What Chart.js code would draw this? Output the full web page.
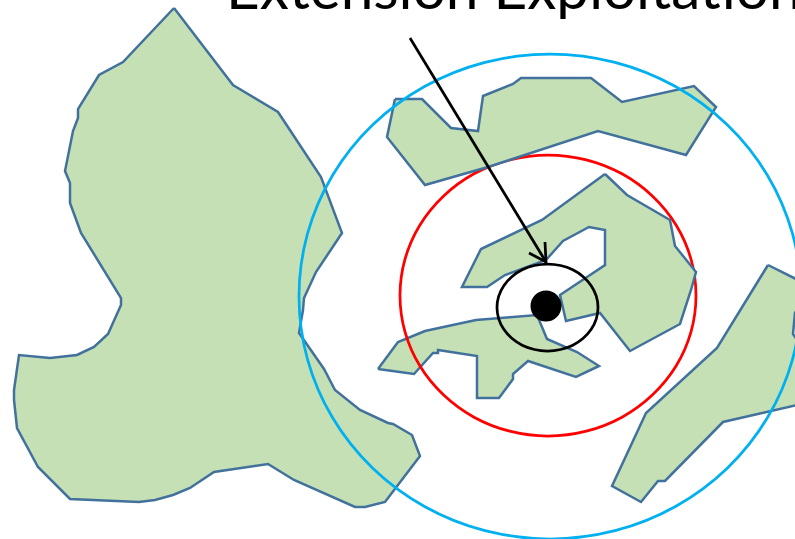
<!DOCTYPE html>
<html>
<head>
<meta charset="utf-8">
<style>
  html, body { margin: 0; padding: 0; background: #fff; overflow: hidden; }
  #wrap { position: relative; width: 795px; height: 539px; overflow: hidden; }
  #myChart { position: absolute; left: 0; top: 0; }
  #heading { position: absolute; left: 226px; top: -49px; font: 400 58.5px Lato, sans-serif; color: #000; white-space: nowrap; }
</style>
</head>
<body>
<div id="wrap">
  <canvas id="myChart" width="795" height="539"></canvas>
  <div id="heading">Extension Exploitation</div>
</div>
<script src="https://cdn.jsdelivr.net/npm/chart.js@4/dist/chart.umd.min.js"></script>
<script>
var bigIsland = [[174,8],[123,62],[99,75],[78,109],[78,118],[73,131],[65,171],[70,183],[70,203],[81,233],[121,298],[121,305],[108,334],[94,347],[77,355],[50,358],[19,355],[14,390],[14,400],[17,428],[38,467],[70,499],[139,502],[155,500],[173,495],[190,488],[214,472],[268,464],[294,480],[355,507],[365,507],[385,502],[420,456],[412,435],[393,424],[388,423],[360,410],[335,390],[324,369],[299,333],[303,310],[304,298],[316,272],[342,233],[321,177],[278,112],[233,85],[174,8]];
var topIsland = [[395,99],[422,99],[451,128],[478,131],[483,96],[513,84],[521,78],[591,78],[622,102],[694,86],[716,107],[686,155],[598,131],[488,167],[425,185],[387,137],[395,99]];
var centerIsland = [[605,174],[627,195],[670,220],[675,246],[696,272],[691,290],[680,324],[630,351],[600,313],[566,321],[560,295],[605,265],[605,230],[589,227],[563,241],[546,260],[505,275],[487,287],[462,287],[481,249],[542,220],[605,174]];
var lowerIsland = [[378,369],[398,342],[425,331],[476,320],[537,315],[547,339],[577,352],[599,366],[576,377],[528,361],[513,374],[513,379],[499,398],[477,398],[477,356],[438,350],[438,353],[433,353],[414,374],[378,369]];
var rightIsland = [[768,265],[810,286],[795,313],[793,334],[810,360],[810,402],[723,422],[665,481],[658,481],[641,502],[612,486],[646,413],[717,348],[768,265]];

var outerRing = [[550,539],[485,530.7],[424.5,506.5],[372.5,468],[332.6,417.8],[307.5,359.3],[299,296.5],[307.5,233.7],[332.6,175.2],[372.5,125],[424.5,86.5],[485,62.3],[550,54],[615,62.3],[675.5,86.5],[727.5,125],[767.4,175.2],[792.5,233.7],[801,296.5],[792.5,359.3],[767.4,417.8],[727.5,468],[675.5,506.5],[615,530.7],[550,539],[485,530.7],[424.5,506.5]];
var middleRing = [[696,295.5],[691,331.9],[676.2,365.8],[652.6,394.8],[622,417.2],[586.3,431.2],[548,436],[509.7,431.2],[474,417.2],[443.4,394.8],[419.8,365.8],[405,331.9],[400,295.5],[405,259.1],[419.8,225.2],[443.4,196.2],[474,173.8],[509.7,159.8],[548,155],[586.3,159.8],[622,173.8],[652.6,196.2],[676.2,225.2],[691,259.1],[696,295.5],[691,331.9],[676.2,365.8]];
var innerRing = [[598,307.5],[596.3,318.8],[591.2,329.3],[583.2,338.3],[572.8,345.2],[560.6,349.5],[547.5,351],[534.4,349.5],[522.2,345.2],[511.8,338.3],[503.8,329.3],[498.7,318.8],[497,307.5],[498.7,296.2],[503.8,285.7],[511.8,276.7],[522.2,269.8],[534.4,265.5],[547.5,264],[560.6,265.5],[572.8,269.8],[583.2,276.7],[591.2,285.7],[596.3,296.2],[598,307.5],[596.3,318.8],[591.2,329.3]];

var arrowShaft = [[410,38],[546,262]];
var arrowHead = [[529,253],[546,262],[545,242]];
var centerDot = [[546,306]];

function pts(list) {
  return list.map(function (p) { return { x: p[0], y: p[1] }; });
}

function island(list) {
  return {
    data: pts(list),
    showLine: true,
    fill: 'shape',
    backgroundColor: '#C5E0B4',
    borderColor: '#41719C',
    borderWidth: 2.5,
    pointRadius: 0,
    tension: 0
  };
}

// rings overlap by two points, the loose first and last bits stay hidden
function ring(list, color) {
  return {
    data: pts(list),
    showLine: true,
    fill: false,
    borderColor: color,
    borderWidth: 2.75,
    pointRadius: 0,
    tension: 0.34,
    segment: {
      borderColor: function (c) {
        return (c.p0DataIndex === 0 || c.p0DataIndex === list.length - 2) ? 'rgba(0,0,0,0)' : color;
      }
    }
  };
}

function stroke(list) {
  return {
    data: pts(list),
    showLine: true,
    fill: false,
    borderColor: '#000',
    borderWidth: 2.75,
    pointRadius: 0,
    tension: 0
  };
}

// first dataset ends up on top
var ctx = document.getElementById('myChart').getContext('2d');
var chart = new Chart(ctx, {
  type: 'scatter',
  data: {
    datasets: [
      { data: pts(centerDot), pointRadius: 15.5, backgroundColor: '#000', borderColor: '#000', pointBorderWidth: 0 },
      stroke(arrowHead),
      stroke(arrowShaft),
      ring(innerRing, '#000'),
      ring(outerRing, '#00B0F0'),
      island(centerIsland),
      island(topIsland),
      ring(middleRing, '#FF0000'),
      island(lowerIsland),
      island(rightIsland),
      island(bigIsland)
    ]
  },
  options: {
    responsive: false,
    animation: false,
    events: [],
    layout: { padding: 0, autoPadding: false },
    elements: { line: { capBezierPoints: false, borderJoinStyle: 'miter' } },
    plugins: { legend: { display: false }, tooltip: { enabled: false } },
    scales: {
      x: { type: 'linear', min: 0, max: 795, display: false },
      y: { type: 'linear', min: 0, max: 539, reverse: true, display: false }
    }
  }
});
</script>
</body>
</html>
